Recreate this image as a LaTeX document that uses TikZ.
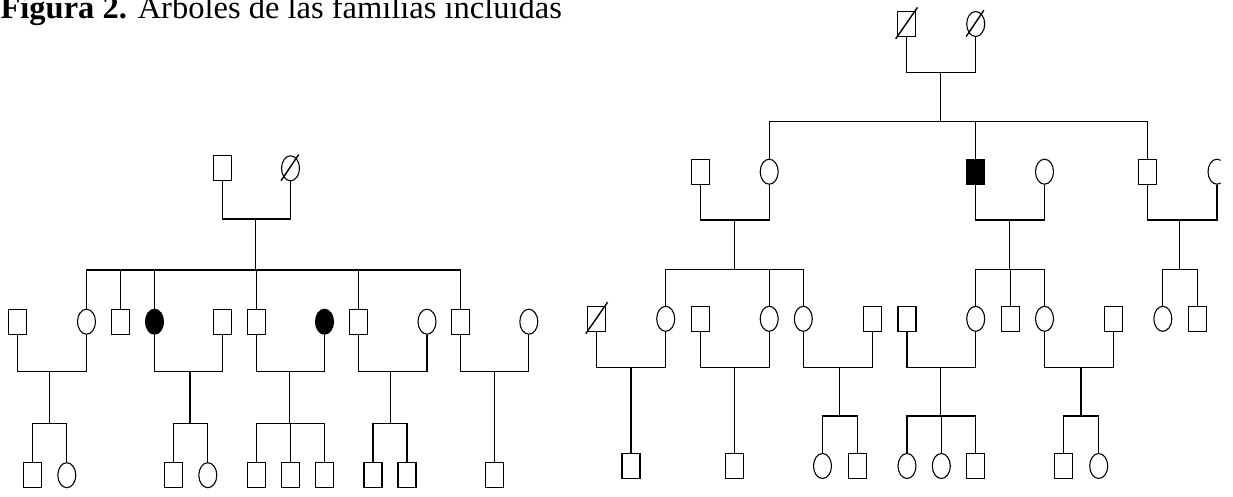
\documentclass[tikz,border=0pt]{standalone}
\usepackage{fontspec}
\setmainfont{Liberation Serif}
\usetikzlibrary{shapes.geometric,calc}
\newcommand\sqslash[1]{\draw[line width=1.4pt] ($(#1.center)+(-11,14.8)$) -- ($(#1.center)+(10.8,-16.6)$);}
\newcommand\elslash[1]{\draw[line width=1.4pt] ($(#1.center)+(-9.5,12.5)$) -- ($(#1.center)+(8.2,-13.8)$);}
\begin{document}
\begin{tikzpicture}[x=1pt,y=-1pt,line width=1.1pt,
  person/.style={draw, inner sep=0pt, minimum width=18pt, minimum height=25pt},
  male/.style={person, rectangle},
  female/.style={person, ellipse},
  affected/.style={fill=black}]
\useasboundingbox (0,0) rectangle (1233,496);

\node[anchor=base west, inner sep=0pt, font=\fontsize{32.5}{36}\selectfont] (title) at (0,18)
  {\textbf{Figura 2.} Árboles de las familias incluidas};

% ---------------- first family ----------------
\node[male]   (LA) at (222.5,168.3) {};
\node[female] (LB) at (290.5,168.3) {};
\elslash{LB}
\coordinate (LU) at (255.7,219);
\coordinate (LS) at (255.7,270);

\node[male]            (L1s) at (17.7,321.7) {};
\node[female]          (L1)  at (86.5,321.7) {};
\node[male]            (L2)  at (120.5,321.7) {};
\node[female,affected] (L3)  at (154.5,321.7) {};
\node[male]            (L3s) at (222.5,321.7) {};
\node[male]            (L4)  at (256.7,321.7) {};
\node[female,affected] (L4s) at (324.5,321.7) {};
\node[male]            (L5)  at (358.5,321.7) {};
\node[female]          (L5s) at (427,321.7) {};
\node[male]            (L6)  at (460.5,321.7) {};
\node[female]          (L6s) at (528.8,321.7) {};

\draw (LA.south) |- (LU) -| (LB.south);
\draw (LU) -- (LS);
\foreach \c in {L1,L2,L3,L4,L5,L6} \draw (LS) -| (\c.north);

\coordinate (LU1) at (49.7,371.7);  \coordinate (LS1) at (49.7,423.3);
\coordinate (LU3) at (190,371.7);   \coordinate (LS3) at (190,423.3);
\coordinate (LU4) at (289.7,371.7); \coordinate (LS4) at (289.7,423.3);
\coordinate (LU5) at (390.5,371.7); \coordinate (LS5) at (390.5,423.3);
\coordinate (LU6) at (494.5,371.7);

\node[male]   (L11) at (32.8,475.2) {};
\node[female] (L12) at (66.8,475.2) {};
\node[male]   (L31) at (173.2,475.2) {};
\node[female] (L32) at (207.8,475.2) {};
\node[male]   (L41) at (256.7,475.2) {};
\node[male]   (L42) at (290.5,475.2) {};
\node[male]   (L43) at (324.5,475.2) {};
\node[male]   (L51) at (373,475.2) {};
\node[male]   (L52) at (407,475.2) {};
\node[male]   (L61) at (494.7,475.2) {};

\draw (L1s.south) |- (LU1) -| (L1.south);
\draw (LU1) -- (LS1);
\foreach \c in {L11,L12} \draw (LS1) -| (\c.north);

\draw (L3.south) |- (LU3) -| (L3s.south);
\draw (LU3) -- (LS3);
\foreach \c in {L31,L32} \draw (LS3) -| (\c.north);

\draw (L4.south) |- (LU4) -| (L4s.south);
\draw (LU4) -- (LS4);
\foreach \c in {L41,L42,L43} \draw (LS4) -| (\c.north);

\draw (L5.south) |- (LU5) -| (L5s.south);
\draw (LU5) -- (LS5);
\foreach \c in {L51,L52} \draw (LS5) -| (\c.north);

\draw (L6.south) |- (LU6) -| (L6s.south);
\draw (LU6) -- (LU6 |- L61.north);

% ---------------- second family ----------------
\node[male]   (RA) at (906.7,24) {};
\node[female] (RB) at (975.7,24) {};
\sqslash{RA}
\elslash{RB}
\coordinate (RU) at (940.7,72.7);
\coordinate (RS) at (940.7,121.7);

\node[male]            (R1s) at (700.3,171.7) {};
\node[female]          (R1)  at (769.2,171.7) {};
\node[male,affected]   (R2)  at (975.3,171.7) {};
\node[female]          (R2s) at (1044.5,171.7) {};
\node[male]            (R3)  at (1147.5,171.7) {};
\begin{scope}
  \clip (0,-5) rectangle (1220.5,500);
  \node[female]        (R3s) at (1217,171.7) {};
\end{scope}

\draw (RA.south) |- (RU) -| (RB.south);
\draw (RU) -- (RS);
\foreach \c in {R1,R2,R3} \draw (RS) -| (\c.north);

\coordinate (RU1) at (734.3,220);  \coordinate (RS1) at (734.3,269.3);
\coordinate (RU2) at (1009.7,220); \coordinate (RS2) at (1009.7,269.3);
\coordinate (RU3) at (1179.7,220); \coordinate (RS3) at (1179.7,269.3);

\draw (R1s.south) |- (RU1) -| (R1.south);
\draw (R2.south) |- (RU2) -| (R2s.south);
\draw (R3.south) |- (RU3) -| (R3s.south);
\draw (RU1) -- (RS1);
\draw (RU2) -- (RS2);
\draw (RU3) -- (RS3);

\node[male]   (R1as) at (596.8,318.8) {};
\sqslash{R1as}
\node[female] (R1a)  at (665.7,318.8) {};
\node[male]   (R1bs) at (700.3,318.8) {};
\node[female] (R1b)  at (769.2,318.8) {};
\node[female] (R1c)  at (803.3,318.8) {};
\node[male]   (R1cs) at (872.2,318.8) {};
\node[male]   (R2as) at (907,318.8) {};
\node[female] (R2a)  at (975.7,318.8) {};
\node[male]   (R2b)  at (1010.2,318.8) {};
\node[female] (R2c)  at (1044.5,318.8) {};
\node[male]   (R2cs) at (1113.3,318.8) {};
\node[female] (R3a)  at (1162.8,318.8) {};
\node[male]   (R3b)  at (1197.2,318.8) {};

\foreach \c in {R1a,R1b,R1c} \draw (RS1) -| (\c.north);
\foreach \c in {R2a,R2b,R2c} \draw (RS2) -| (\c.north);
\foreach \c in {R3a,R3b} \draw (RS3) -| (\c.north);

\coordinate (RV1) at (631,367.3);
\coordinate (RV2) at (734.3,367.3);
\coordinate (RV3) at (839.3,367.3);  \coordinate (RT3) at (839.3,416);
\coordinate (RV4) at (940.7,367.3);  \coordinate (RT4) at (940.7,416);
\coordinate (RV5) at (1081,367.3);   \coordinate (RT5) at (1081,416);

\node[male]   (R1a1) at (631,466) {};
\node[male]   (R1b1) at (734.3,466) {};
\node[female] (R1c1) at (822.5,466) {};
\node[male]   (R1c2) at (857.3,466) {};
\node[female] (R2a1) at (907,466) {};
\node[female] (R2a2) at (941.3,466) {};
\node[male]   (R2a3) at (975.5,466) {};
\node[male]   (R2c1) at (1063.7,466) {};
\node[female] (R2c2) at (1098.7,466) {};

\draw (R1as.south) |- (RV1) -| (R1a.south);
\draw (RV1) -- (R1a1.north);
\draw (R1bs.south) |- (RV2) -| (R1b.south);
\draw (RV2) -- (R1b1.north);
\draw (R1c.south) |- (RV3) -| (R1cs.south);
\draw (RV3) -- (RT3);
\foreach \c in {R1c1,R1c2} \draw (RT3) -| (\c.north);
\draw (R2as.south) |- (RV4) -| (R2a.south);
\draw (RV4) -- (RT4);
\foreach \c in {R2a1,R2a2,R2a3} \draw (RT4) -| (\c.north);
\draw (R2c.south) |- (RV5) -| (R2cs.south);
\draw (RV5) -- (RT5);
\foreach \c in {R2c1,R2c2} \draw (RT5) -| (\c.north);
\end{tikzpicture}
\end{document}
